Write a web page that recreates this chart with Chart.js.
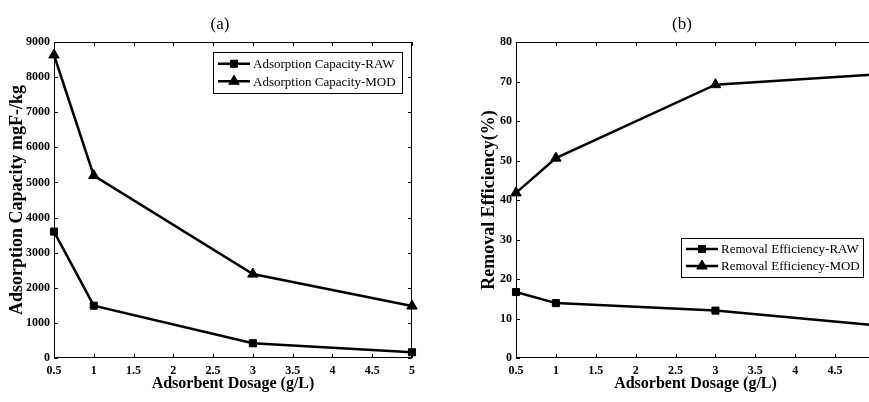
<!DOCTYPE html>
<html>
<head>
<meta charset="utf-8">
<script src="https://cdn.jsdelivr.net/npm/chart.js@4.4.0/dist/chart.umd.min.js"></script>
<style>
  html, body { margin: 0; padding: 0; background: #fff; overflow: hidden; width: 869px; height: 402px; }
  .panel { position: absolute; top: 0; height: 402px; }
  #panelA { left: 0; width: 440px; }
  #panelB { left: 440px; width: 470px; }
</style>
</head>
<body>
<div class="panel" id="panelA"><canvas id="chartA" width="440" height="402"></canvas></div>
<div class="panel" id="panelB"><canvas id="chartB" width="470" height="402"></canvas></div>
<script>
const dosage = [0.5, 1, 3, 5];
const capacityRaw = [3600, 1490, 420, 165];
const capacityMod = [8630, 5195, 2390, 1480];
const removalRaw = [16.7, 13.9, 12.0, 8.3];
const removalMod = [41.8, 50.6, 69.2, 71.8];

const SERIF = '"Liberation Serif", "Times New Roman", serif';

// matlab-like box with inward ticks on all four sides
const boxTicks = {
  id: "boxTicks",
  beforeDatasetsDraw(chart) {
    const { ctx, chartArea: a, scales } = chart;
    const len = 4;
    ctx.save();
    ctx.strokeStyle = "#000";
    ctx.lineWidth = 1;
    ctx.strokeRect(a.left + 0.5, a.top + 0.5, a.right - a.left - 1, a.bottom - a.top - 1);
    ctx.beginPath();
    scales.x.ticks.forEach((t) => {
      const px = Math.round(scales.x.getPixelForValue(t.value)) + 0.5;
      ctx.moveTo(px, a.bottom); ctx.lineTo(px, a.bottom - len);
      ctx.moveTo(px, a.top); ctx.lineTo(px, a.top + len);
    });
    scales.y.ticks.forEach((t) => {
      const py = Math.round(scales.y.getPixelForValue(t.value)) + 0.5;
      ctx.moveTo(a.left, py); ctx.lineTo(a.left + len, py);
      ctx.moveTo(a.right, py); ctx.lineTo(a.right - len, py);
    });
    ctx.stroke();
    ctx.restore();
  },
};

const panelLabel = {
  id: "panelLabel",
  afterDraw(chart, args, opts) {
    const ctx = chart.ctx;
    ctx.save();
    ctx.font = "17px " + SERIF;
    ctx.fillStyle = "#000";
    ctx.textAlign = "center";
    ctx.textBaseline = "middle";
    ctx.fillText(opts.text, opts.x, opts.y);
    ctx.restore();
  },
};

// boxed legend sitting inside the axes
const boxLegend = {
  id: "boxLegend",
  afterDraw(chart, args, opts) {
    const ctx = chart.ctx;
    const sets = chart.data.datasets;
    ctx.save();
    ctx.fillStyle = "#fff";
    ctx.fillRect(opts.left, opts.top, opts.width, opts.height);
    ctx.strokeStyle = "#000";
    ctx.lineWidth = 1;
    ctx.strokeRect(opts.left + 0.5, opts.top + 0.5, opts.width, opts.height);
    ctx.font = "13px " + SERIF;
    ctx.textBaseline = "middle";
    const start = opts.top + (opts.height - opts.rowH * sets.length) / 2;
    sets.forEach((ds, i) => {
      const cy = start + opts.rowH * (i + 0.5);
      const x0 = opts.left + 5, x1 = x0 + 32;
      ctx.strokeStyle = "#000";
      ctx.lineWidth = ds.borderWidth;
      ctx.beginPath(); ctx.moveTo(x0, cy); ctx.lineTo(x1, cy); ctx.stroke();
      ctx.fillStyle = "#000";
      ctx.lineWidth = 1;
      Chart.helpers.drawPoint(ctx, { pointStyle: ds.pointStyle, radius: ds.pointRadius, borderWidth: 1, rotation: 0 }, (x0 + x1) / 2, cy);
      ctx.fillStyle = "#000";
      ctx.fillText(ds.label, x1 + 3, cy + 1);
    });
    ctx.restore();
  },
};

function series(label, values, style, radius) {
  return {
    label,
    data: dosage.map((d, i) => ({ x: d, y: values[i] })),
    borderColor: "#000",
    backgroundColor: "#000",
    borderWidth: 2.5,
    pointStyle: style,
    pointRadius: radius,
    pointBorderWidth: 1,
    pointBackgroundColor: "#000",
    pointBorderColor: "#000",
    tension: 0,
    clip: false,
  };
}

function makeChart(id, datasets, cfg) {
  return new Chart(document.getElementById(id), {
    type: "line",
    data: { datasets },
    plugins: [boxTicks, panelLabel, boxLegend],
    options: {
      responsive: false,
      animation: false,
      layout: { padding: cfg.padding },
      plugins: {
        legend: { display: false },
        tooltip: { enabled: false },
        panelLabel: cfg.label,
        boxLegend: cfg.legend,
      },
      scales: {
        x: {
          type: "linear",
          min: 0.5,
          max: 5,
          grid: { display: false, drawTicks: false },
          border: { display: false },
          ticks: { stepSize: 0.5, color: "#000", padding: 6, font: { family: SERIF, size: 12, weight: "bold" }, maxRotation: 0, callback: (v) => String(v) },
          title: { display: true, text: "Adsorbent Dosage (g/L)", color: "#000", font: { family: SERIF, size: 16, weight: "bold" }, padding: { top: 0, bottom: 9 } },
          afterFit: (s) => { s.height = 44; },
        },
        y: {
          min: cfg.yMin,
          max: cfg.yMax,
          grid: { display: false, drawTicks: false },
          border: { display: false },
          ticks: { stepSize: cfg.yStep, color: "#000", padding: 4, font: { family: SERIF, size: 12, weight: "bold" }, callback: (v) => String(v) },
          title: { display: true, text: cfg.yTitle, color: "#000", font: { family: SERIF, size: 18, weight: "bold" }, padding: { top: cfg.yTitlePad, bottom: 0 } },
          afterFit: (s) => { s.width = cfg.yWidth; },
        },
      },
    },
  });
}

makeChart("chartA", [
  series("Adsorption Capacity-RAW", capacityRaw, "rect", 5),
  series("Adsorption Capacity-MOD", capacityMod, "triangle", 6),
], {
  padding: { left: 0, right: 28, top: 42, bottom: 0 },
  yMin: 0, yMax: 9000, yStep: 1000,
  yTitle: "Adsorption Capacity mgF-/kg",
  yTitlePad: 7,
  yWidth: 54,
  label: { text: "(a)", x: 220, y: 25 },
  legend: { left: 213, top: 52, width: 189, height: 41, rowH: 17.5 },
});

makeChart("chartB", [
  series("Removal Efficiency-RAW", removalRaw, "rect", 5),
  series("Removal Efficiency-MOD", removalMod, "triangle", 6),
], {
  padding: { left: 39, right: 35, top: 42, bottom: 0 },
  yMin: 0, yMax: 80, yStep: 10,
  yTitle: "Removal Efficiency(%)",
  yTitlePad: 0,
  yWidth: 37,
  label: { text: "(b)", x: 242, y: 25 },
  legend: { left: 241, top: 238, width: 182, height: 39, rowH: 17 },
});
</script>
</body>
</html>
